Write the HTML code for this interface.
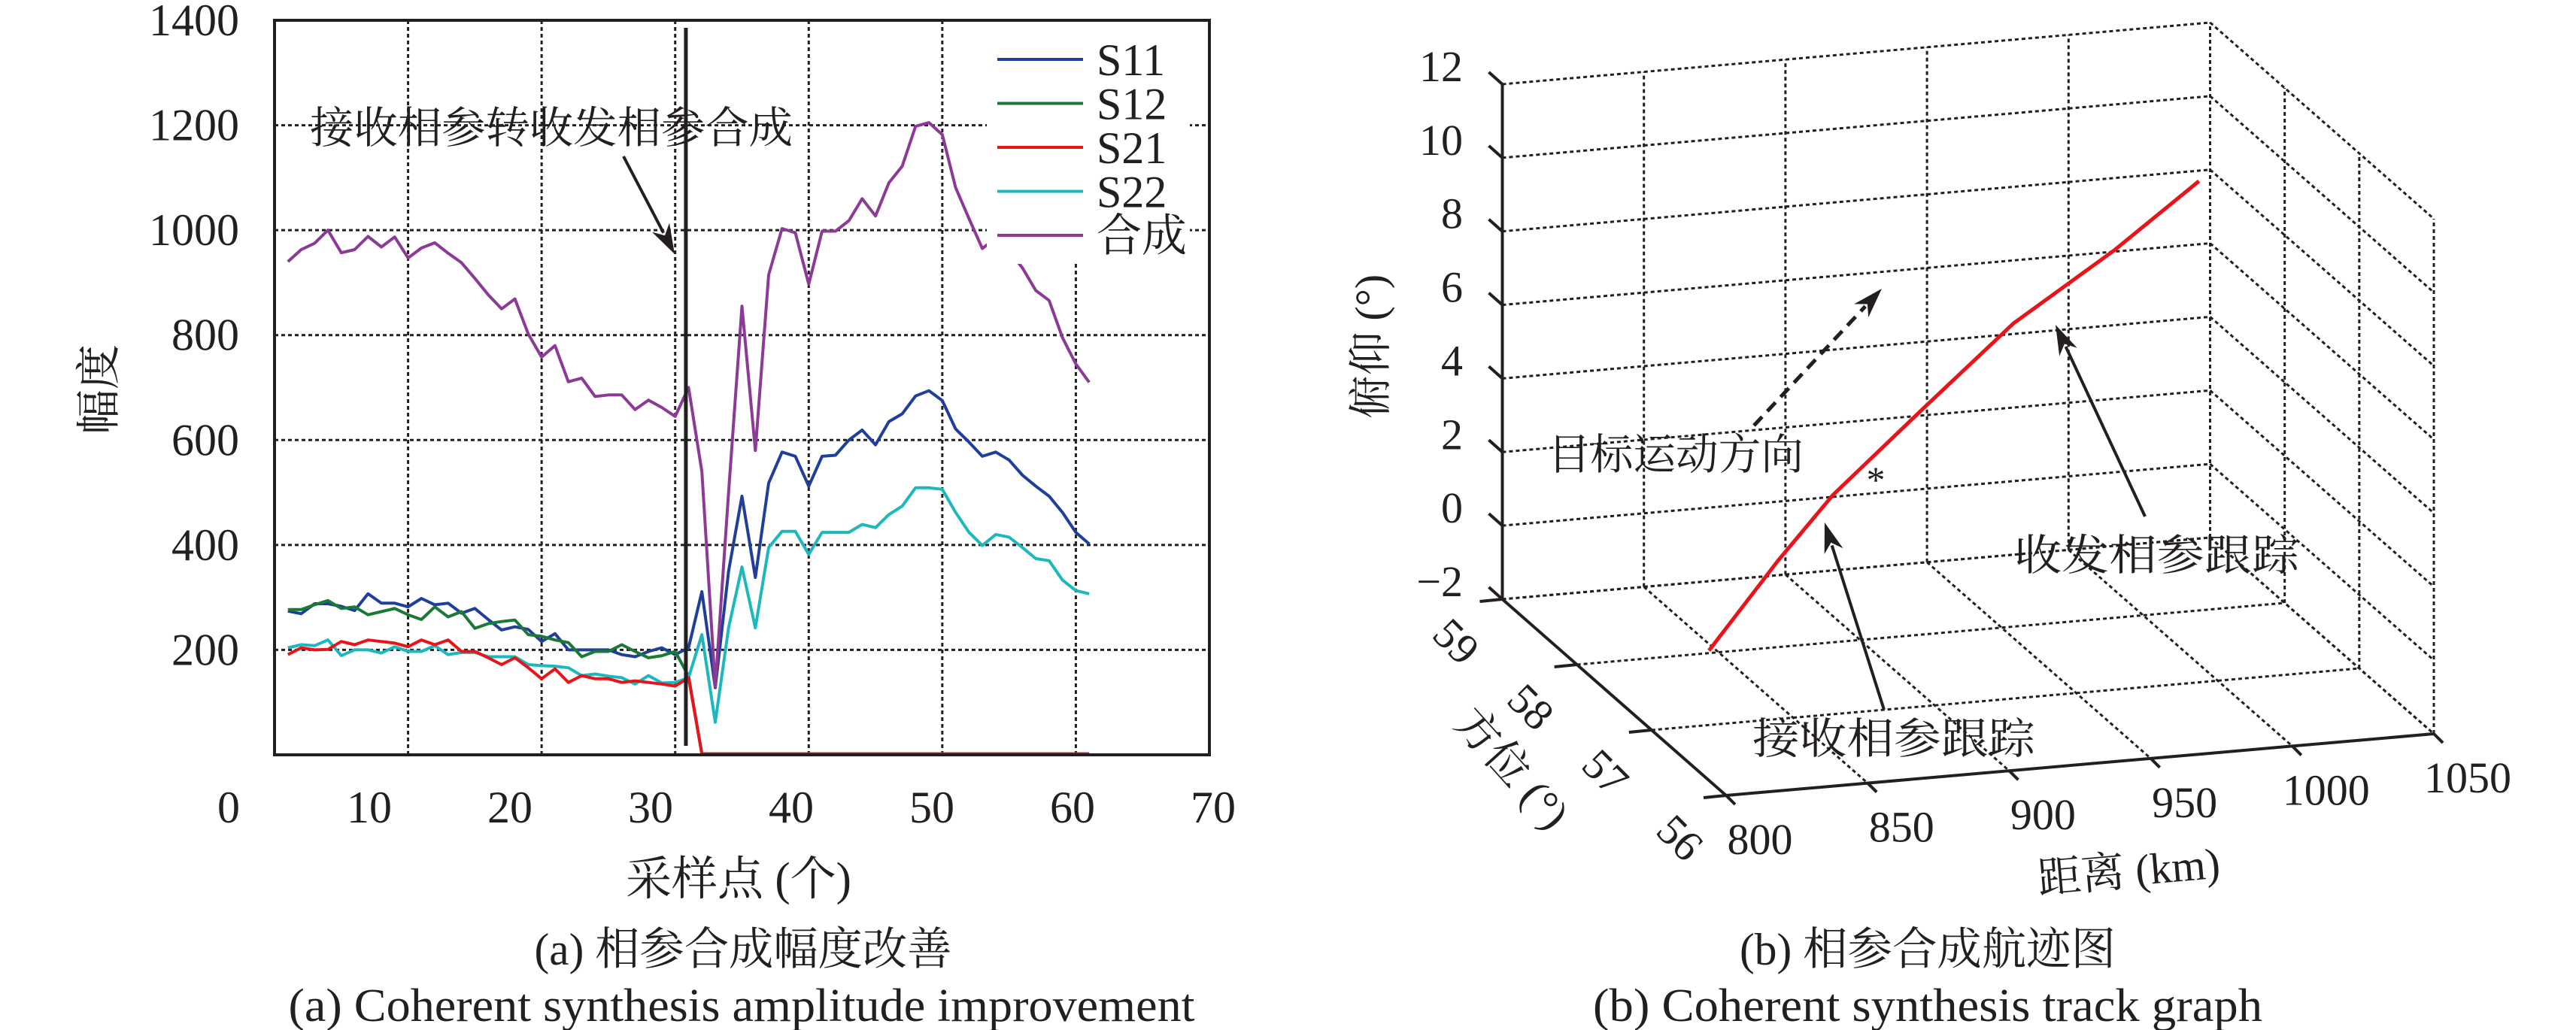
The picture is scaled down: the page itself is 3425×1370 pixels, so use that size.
<!DOCTYPE html>
<html><head><meta charset="utf-8"><style>
html,body{margin:0;padding:0;background:#fff;}
svg{display:block;}
text{font-family:"Liberation Serif","Noto Serif CJK SC","Noto Sans CJK SC",serif;fill:#231f20;}
</style></head><body>
<svg id="fig" xmlns="http://www.w3.org/2000/svg" width="3425" height="1370" viewBox="0 0 3425 1370">
<g id="left"></g>
<g id="right"></g>
</svg>
<script>
// ---------- Left chart data ----------
const xTicks = [0,10,20,30,40,50,60,70];
const yTicks = [200,400,600,800,1000,1200,1400];
const seriesNames = ["S11","S12","S21","S22","合成"];
const s11 = [274,269,288,288,283,275,307,289,289,282,298,286,289,270,279,258,238,244,239,216,231,200,200,200,200,191,187,197,204,191,204,311,128,350,493,338,518,577,569,512,569,571,600,619,591,635,650,684,694,675,621,596,569,577,562,533,512,493,462,424,402];
const s12 = [277,277,286,294,279,282,267,273,279,267,258,282,263,273,241,250,254,257,229,226,219,214,187,197,197,210,197,185,189,197,150,2,2,2,2,2,2,2,2,2,2,2,2,2,2,2,2,2,2,2,2,2,2,2,2,2,2,2,2,2,2];
const s21 = [191,204,200,201,216,210,219,216,213,206,219,210,219,197,197,185,172,185,166,145,164,138,151,145,145,138,141,138,135,131,147,2,2,2,2,2,2,2,2,2,2,2,2,2,2,2,2,2,2,2,2,2,2,2,2,2,2,2,2,2,2];
const s22 = [204,210,208,219,189,200,200,194,206,197,197,208,191,195,195,187,187,187,172,170,169,166,151,154,150,147,135,151,137,138,147,229,62,242,358,242,395,426,426,382,424,424,424,439,433,458,474,509,509,506,462,424,399,420,415,395,374,370,333,313,307];
const sSum = [940,963,975,1000,957,963,988,968,987,947,966,976,956,938,908,877,850,869,802,758,780,711,718,683,686,686,658,676,662,645,700,540,130,500,855,580,915,1003,995,897,998,998,1018,1060,1027,1090,1122,1198,1205,1182,1081,1022,965,985,960,928,885,866,795,745,710];
const switchX = 30.8;

// ---------- Right chart data ----------
const rangeTicks = [800,850,900,950,1000,1050];
const azTicks = [59,58,57,56];
const elTicks = [-2,0,2,4,6,8,10,12];
const trackRange = [800,832,857,898.6,940,986,1025];
const trackAz = [56.23,56.52,56.73,57.10,57.46,57.86,58.20];
const trackEl = [1.53,3.24,4.49,5.9,7.3,8.26,9.28];

const NS="http://www.w3.org/2000/svg";
function mk(tag,parent,attrs){const e=document.createElementNS(NS,tag);for(const k in attrs)e.setAttribute(k,attrs[k]);parent.appendChild(e);return e;}
const L=document.getElementById('left');
const R=document.getElementById('right');
const SQ='spacingAndGlyphs';

// ===== Left chart =====
const X0=365,X1=1608,Y0=1004,Y1=27;
const xS=v=>X0+v*(X1-X0)/70;
const yS=v=>Y0-v*(Y0-Y1)/1400;
const grid='stroke:#231f20;stroke-width:3;stroke-dasharray:5 4;fill:none';

xTicks.forEach(t=>{
  if(t>0&&t<70){const g=mk('line',L,{x1:xS(t),x2:xS(t),y1:Y1,y2:Y0,style:grid});
  
  }
  const tx=mk('text',L,{x:304+t*18.7,y:1094,'font-size':60,'text-anchor':'middle'});
  tx.textContent=t;
  
  
});
yTicks.forEach(t=>{
  if(t<1400){const g=mk('line',L,{x1:X0,x2:X1,y1:yS(t),y2:yS(t),style:grid});
  
  }
  const tx=mk('text',L,{x:318,y:yS(t)+20,'font-size':60,'text-anchor':'end'});
  tx.textContent=t;
  
  
});

const colors=["#1f3f9a","#1a7a35","#e8141a","#1cb8bd","#8b3a96"];
const allSeries=[s11,s12,s21,s22,sSum];
const order=[0,1,3,2,4];
order.forEach(i=>{
  const d=allSeries[i];
  const pts=d.map((v,k)=>xS(k+1).toFixed(1)+','+yS(v).toFixed(1)).join(' ');
  const p=mk('polyline',L,{points:pts,fill:'none',stroke:colors[i],'stroke-width':4,'stroke-linejoin':'round'});
  
  
});

// legend
const lg=mk('g',L,{});


mk('rect',lg,{x:1312,y:29,width:270,height:322,fill:'#fff'});
seriesNames.forEach((n,i)=>{
  const y=79+i*58.5;
  const ln=mk('line',lg,{x1:1326,x2:1440,y1:y,y2:y,stroke:colors[i],'stroke-width':4});
  
  
  const t=mk('text',lg,{x:1458,y:y+21,'font-size':60});
  t.textContent=n;
  
  
});

const fr=mk('rect',L,{x:X0,y:Y1,width:X1-X0,height:Y0-Y1,fill:'none',stroke:'#231f20','stroke-width':4});



const sw=mk('line',L,{x1:xS(switchX),x2:xS(switchX),y1:37,y2:992,stroke:'#231f20','stroke-width':5});



const ann=mk('text',L,{x:412,y:190,'font-size':58,textLength:642,lengthAdjust:SQ});
ann.textContent='接收相参转收发相参合成';


function arrow(parent,x1,y1,x2,y2,dash,name){
  const g=mk('g',parent,{});
  
  
  const a=Math.atan2(y2-y1,x2-x1),hl=40,hw=13;
  const bx=x2-hl*Math.cos(a),by=y2-hl*Math.sin(a);
  mk('line',g,{x1,y1,x2:bx+8*Math.cos(a),y2:by+8*Math.sin(a),stroke:'#231f20','stroke-width':dash?5:4,'stroke-dasharray':dash?'16 10':'none'});
  const px=-Math.sin(a),py=Math.cos(a);
  mk('polygon',g,{points:`${x2},${y2} ${bx+hw*px},${by+hw*py} ${bx+12*Math.cos(a)},${by+12*Math.sin(a)} ${bx-hw*px},${by-hw*py}`,fill:'#231f20'});
}
arrow(L,829,208,897,338,false,'annotation-arrow');

const xt=mk('text',L,{x:982,y:1190,'font-size':62,'text-anchor':'middle',textLength:300,lengthAdjust:SQ});
xt.textContent='采样点 (个)';


const yt=mk('text',L,{x:0,y:0,'font-size':60,'text-anchor':'middle',transform:'translate(152,518) rotate(-90)'});
yt.textContent='幅度';


const c1=mk('text',L,{x:988,y:1283,'font-size':60,'text-anchor':'middle',textLength:555,lengthAdjust:SQ});
c1.textContent='(a) 相参合成幅度改善';


const c2=mk('text',L,{x:986,y:1358,'font-size':62,'text-anchor':'middle',textLength:1205,lengthAdjust:SQ});
c2.textContent='(a) Coherent synthesis amplitude improvement';



// ===== Right chart (3D projection) =====
const O=[1997.5,797],EX=[941,-82],EA=[297.5,261],EZ=[0,-685];
function P(r,a,z){const u=(r-800)/250,w=(59-a)/3,h=(z+2)/14;
  return [O[0]+u*EX[0]+w*EA[0]+h*EZ[0], O[1]+u*EX[1]+w*EA[1]+h*EZ[1]];}
function seg(parent,p,q,solid,name){
  const l=mk('line',parent,{x1:p[0],y1:p[1],x2:q[0],y2:q[1],style:solid?'stroke:#231f20;stroke-width:4':grid});
  
  
}
elTicks.forEach(z=>seg(R,P(800,59,z),P(1050,59,z),false,'back-wall-gridline'));
rangeTicks.forEach(r=>{if(r>800)seg(R,P(r,59,-2),P(r,59,12),false,'back-wall-gridline');});
elTicks.forEach(z=>seg(R,P(1050,59,z),P(1050,56,z),false,'side-wall-gridline'));
azTicks.forEach(a=>seg(R,P(1050,a,-2),P(1050,a,12),false,'side-wall-gridline'));
rangeTicks.forEach(r=>seg(R,P(r,59,-2),P(r,56,-2),false,'floor-gridline'));
azTicks.forEach(a=>seg(R,P(800,a,-2),P(1050,a,-2),false,'floor-gridline'));
seg(R,P(800,59,-2),P(800,59,12),true,'elevation-axis');
seg(R,P(800,59,-2),P(800,56,-2),true,'azimuth-axis');
seg(R,P(800,56,-2),P(1050,56,-2),true,'range-axis');
elTicks.forEach(z=>{const p=P(800,59,z);
  seg(R,p,[p[0]-18,p[1]-16],true,'elevation-tick');
  const t=mk('text',R,{x:1945,y:p[1]-4,'font-size':58,'text-anchor':'end'});
  t.textContent=z<0?'\u2212'+(-z):z;
  
  });
azTicks.forEach(a=>{const p=P(800,a,-2);
  seg(R,p,[p[0]-30,p[1]+3],true,'azimuth-tick');
  const t=mk('text',R,{x:0,y:0,'font-size':58,'text-anchor':'middle',transform:`translate(${p[0]-75},${p[1]+70}) rotate(45)`});
  t.textContent=a;
  
  });
rangeTicks.forEach(r=>{const p=P(r,56,-2);
  seg(R,p,[p[0]+12,p[1]+12],true,'range-tick');
  const t=mk('text',R,{x:p[0]+45,y:p[1]+78,'font-size':58,'text-anchor':'middle'});
  t.textContent=r;
  
  });
const tpts=trackRange.map((r,i)=>P(r,trackAz[i],trackEl[i]).map(v=>v.toFixed(1)).join(',')).join(' ');
const tr=mk('polyline',R,{points:tpts,fill:'none',stroke:'#e8141a','stroke-width':5,'stroke-linejoin':'round'});


const st=mk('text',R,{x:2494,y:655,'font-size':50,'text-anchor':'middle'});
st.textContent='*';



arrow(R,2332,566,2502,384,true,'motion-direction-arrow');
arrow(R,2852,687,2733,432,false,'transmit-track-arrow');
arrow(R,2505,944,2426,695,false,'receive-track-arrow');
const t1=mk('text',R,{x:2058,y:624,'font-size':57,textLength:340,lengthAdjust:SQ});
t1.textContent='目标运动方向';


const t2=mk('text',R,{x:2678,y:758,'font-size':57,textLength:379,lengthAdjust:SQ});
t2.textContent='收发相参跟踪';


const t3=mk('text',R,{x:2330,y:1002,'font-size':57,textLength:376,lengthAdjust:SQ});
t3.textContent='接收相参跟踪';


const zt=mk('text',R,{x:0,y:0,'font-size':58,'text-anchor':'middle',transform:'translate(1842,461) rotate(-90)'});
zt.textContent='俯仰 (°)';


const at=mk('text',R,{x:0,y:0,'font-size':58,'text-anchor':'middle',transform:'translate(1996,1035) rotate(48)'});
at.textContent='方位 (°)';


const rt=mk('text',R,{x:0,y:0,'font-size':58,'text-anchor':'middle',transform:'translate(2832,1178) rotate(-5)'});
rt.textContent='距离 (km)';


const c3=mk('text',R,{x:2563,y:1283,'font-size':60,'text-anchor':'middle',textLength:500,lengthAdjust:SQ});
c3.textContent='(b) 相参合成航迹图';


const c4=mk('text',R,{x:2563,y:1358,'font-size':62,'text-anchor':'middle',textLength:890,lengthAdjust:SQ});
c4.textContent='(b) Coherent synthesis track graph';


</script>
</body></html>
